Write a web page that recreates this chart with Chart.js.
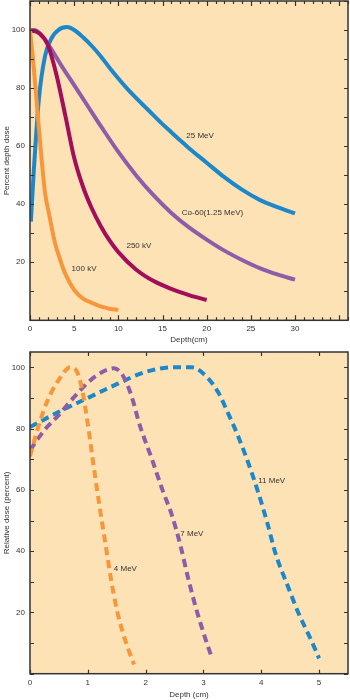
<!DOCTYPE html>
<html><head><meta charset="utf-8">
<script src="https://cdn.jsdelivr.net/npm/chart.js@4.4.1/dist/chart.umd.min.js"></script>
<style>html,body{margin:0;padding:0;background:#fff;}canvas{display:block;}</style>
</head><body>
<canvas id="c1" width="350" height="350"></canvas>
<canvas id="c2" width="350" height="350"></canvas>
<script>
// ---------- Top chart: Percent depth dose vs depth (cm) ----------
const depth100kV = [0, 0.4, 0.9, 1.3, 1.7, 2.2, 2.8, 3.4, 4, 5, 6, 7, 8, 9, 10];
const dose100kV  = [100, 88, 70, 56, 44, 36, 27, 21, 16, 10.5, 7.5, 6, 4.8, 4, 3.6];

const depth250kV = [0, 1, 2, 3, 4, 5, 6, 7, 8, 9, 10, 12, 14, 16, 18, 20];
const dose250kV  = [100, 99, 95, 84.5, 70.5, 56, 46, 38.5, 32.5, 27.5, 23.5, 17.5, 13.5, 10.8, 8.7, 7];

const depthCo60 = [0, 0.5, 1.5, 2.5, 3.5, 5, 6.5, 8, 10, 12, 14, 16, 18, 20, 22, 24, 26, 28, 30];
const doseCo60  = [99.5, 100, 97.5, 93, 88, 81, 74, 67, 58, 50, 43, 37, 32, 27.8, 24, 20.8, 18, 15.8, 14];

const depth25MeV = [0.1, 0.4, 1, 1.7, 2.5, 3.2, 4.2, 5, 6, 7, 8, 9, 10, 11, 12, 13, 14, 15, 16, 17, 18, 20, 22, 24, 26, 28, 30];
const dose25MeV  = [34, 50, 76, 91, 97.5, 100, 101, 100, 97.5, 94.5, 91, 87, 83.3, 79.8, 76.6, 73.6, 70.6, 67.6, 64.8, 62, 59.3, 54.3, 49.3, 45, 41.5, 39, 36.8];

const topXTickLabels = [0, 5, 10, 15, 20, 25, 30];
const topYTickLabels = [20, 40, 60, 80, 100];
const topSeriesNames = ['100 kV', '250 kV', 'Co-60(1.25 MeV)', '25 MeV'];

// ---------- Bottom chart: Relative dose (percent) vs depth (cm) ----------
const depth4MeV = [0, 0.15, 0.3, 0.5, 0.7, 0.8, 0.9, 1.0, 1.1, 1.2, 1.3, 1.4, 1.5, 1.6, 1.7, 1.8];
const dose4MeV  = [71, 81, 89, 96, 100, 99, 93, 81.5, 68, 55, 43, 31, 21, 13.8, 8, 3];

const depth7MeV = [0, 0.25, 0.5, 0.75, 1.0, 1.25, 1.45, 1.6, 1.75, 1.9, 2.1, 2.3, 2.45, 2.6, 2.75, 2.9, 3.05, 3.15];
const dose7MeV  = [73, 79.5, 84.5, 90, 95, 98.5, 99.7, 97.5, 91, 81, 70.5, 59.5, 52, 42, 30, 19.5, 10.5, 5];

const depth11MeV = [0, 0.5, 1.0, 1.5, 2.0, 2.5, 2.8, 3.05, 3.25, 3.45, 3.6, 3.8, 3.95, 4.1, 4.25, 4.45, 4.65, 4.85, 5.0];
const dose11MeV  = [80.5, 85.5, 90, 94.5, 98.5, 100, 100, 97, 92, 84, 77.5, 67.5, 59, 49.5, 39, 29, 19.5, 11.5, 5];

const bottomXTickLabels = [0, 1, 2, 3, 4, 5];
const bottomYTickLabels = [20, 40, 60, 80, 100];
const bottomSeriesNames = ['4 MeV', '7 MeV', '11 MeV'];

// ---------- styling ----------
const BG = '#FDE2B6';
const INK = '#333333';
const FONT = {family: '"Liberation Sans", Arial, sans-serif', size: 8};
const C_ORANGE = '#F7963A', C_MAGENTA = '#A20E5C', C_PURPLE = '#8D5DA8', C_BLUE = '#1C88CA';

const pts = (xs, ys) => xs.map((x, i) => ({x, y: ys[i]}));

function framePlugin(cfg) {
  return {
    id: 'frame',
    beforeDraw(chart) {
      const {ctx, chartArea: a} = chart;
      ctx.save();
      ctx.fillStyle = BG;
      ctx.fillRect(a.left, a.top, a.right - a.left, a.bottom - a.top);
      ctx.restore();
    },
    afterDraw(chart) {
      const {ctx, chartArea: a, scales: {x, y}} = chart;
      ctx.save();
      ctx.strokeStyle = INK;
      ctx.lineWidth = 1.2;
      ctx.beginPath();
      for (let v = Math.ceil(x.min / cfg.xMinor) * cfg.xMinor; v <= x.max + 1e-9; v += cfg.xMinor) {
        const px = Math.round(x.getPixelForValue(v)) + 0.5;
        const isMajor = Math.abs(v / cfg.xMajor - Math.round(v / cfg.xMajor)) < 1e-6;
        const len = isMajor ? cfg.majorLen : cfg.minorLen;
        ctx.moveTo(px, a.bottom); ctx.lineTo(px, a.bottom - len);
        ctx.moveTo(px, a.top); ctx.lineTo(px, a.top + len);
      }
      for (let v = Math.ceil(y.min / cfg.yMinor) * cfg.yMinor; v <= y.max + 1e-9; v += cfg.yMinor) {
        const py = Math.round(y.getPixelForValue(v)) + 0.5;
        ctx.moveTo(a.left, py); ctx.lineTo(a.left + 4, py);
        ctx.moveTo(a.right, py); ctx.lineTo(a.right - 4, py);
      }
      ctx.stroke();
      ctx.lineWidth = 1.5;
      ctx.strokeRect(a.left, a.top, a.right - a.left, a.bottom - a.top);
      ctx.fillStyle = INK;
      ctx.font = '8px "Liberation Sans", Arial, sans-serif';
      ctx.textAlign = 'center';
      ctx.textBaseline = 'middle';
      cfg.labels.forEach(l => {
        ctx.fillText(l.text, x.getPixelForValue(l.x), y.getPixelForValue(l.y));
      });
      ctx.restore();
    }
  };
}

function zeroPad(s) { s.paddingTop = 0; s.paddingBottom = 0; s.paddingLeft = 0; s.paddingRight = 0; }

function makeOptions(o) {
  return {
    responsive: false,
    animation: false,
    devicePixelRatio: 1,
    layout: {padding: {top: o.padTop, right: 2, bottom: 0, left: 0}},
    plugins: {legend: {display: false}, tooltip: {enabled: false}},
    elements: {point: {radius: 0}},
    scales: {
      x: {
        type: 'linear', min: 0, max: o.xMax,
        afterBuildTicks: s => { s.ticks = o.xTicks.map(v => ({value: v})); },
        afterFit: s => { s.height = o.xHeight; zeroPad(s); },
        grid: {display: false, drawTicks: false},
        border: {display: false},
        ticks: {padding: 4, font: FONT, color: INK, maxRotation: 0, autoSkip: false},
        title: {display: true, text: o.xTitle, font: FONT, color: INK, padding: {top: 0, bottom: o.xTitlePad}}
      },
      y: {
        type: 'linear', min: 0, max: o.yMax,
        afterBuildTicks: s => { s.ticks = o.yTicks.map(v => ({value: v})); },
        afterFit: s => { s.width = 30; zeroPad(s); },
        grid: {display: false, drawTicks: false},
        border: {display: false},
        ticks: {padding: 5, font: FONT, color: INK, autoSkip: false},
        title: {display: true, text: o.yTitle, font: FONT, color: INK, padding: {top: 2, bottom: 0}}
      }
    }
  };
}

const solid = (label, data, color) => ({
  label, data, borderColor: color, borderWidth: 4, fill: false,
  cubicInterpolationMode: 'monotone', borderCapStyle: 'butt', pointRadius: 0
});
const dashed = (label, data, color) => ({
  label, data, borderColor: color, borderWidth: 4, fill: false, borderDash: [8, 5],
  cubicInterpolationMode: 'monotone', borderCapStyle: 'butt', pointRadius: 0
});

new Chart(document.getElementById('c1'), {
  type: 'line',
  data: {datasets: [
    solid(topSeriesNames[0], pts(depth100kV, dose100kV), C_ORANGE),
    solid(topSeriesNames[1], pts(depth250kV, dose250kV), C_MAGENTA),
    solid(topSeriesNames[2], pts(depthCo60, doseCo60), C_PURPLE),
    solid(topSeriesNames[3], pts(depth25MeV, dose25MeV), C_BLUE)
  ]},
  options: makeOptions({padTop: 1, xMax: 36, yMax: 110, xTicks: topXTickLabels, yTicks: topYTickLabels,
    xHeight: 29.7, xTitle: 'Depth(cm)', xTitlePad: 5, yTitle: 'Percent depth dose'}),
  plugins: [framePlugin({xMinor: 1, xMajor: 5, yMinor: 10, majorLen: 5, minorLen: 3,
    labels: [
      {text: topSeriesNames[3], x: 19.25, y: 63.5},
      {text: topSeriesNames[2], x: 20.66, y: 37.2},
      {text: topSeriesNames[1], x: 12.33, y: 25.6},
      {text: topSeriesNames[0], x: 6.12, y: 17.9}
    ]})]
});

new Chart(document.getElementById('c2'), {
  type: 'line',
  data: {datasets: [
    dashed(bottomSeriesNames[0], pts(depth4MeV, dose4MeV), C_ORANGE),
    dashed(bottomSeriesNames[1], pts(depth7MeV, dose7MeV), C_PURPLE),
    dashed(bottomSeriesNames[2], pts(depth11MeV, dose11MeV), C_BLUE)
  ]},
  options: makeOptions({padTop: 2, xMax: 5.5, yMax: 105, xTicks: bottomXTickLabels, yTicks: bottomYTickLabels,
    xHeight: 26.3, xTitle: 'Depth (cm)', xTitlePad: 0, yTitle: 'Relative dose (percent)'}),
  plugins: [framePlugin({xMinor: 1, xMajor: 1, yMinor: 10, majorLen: 4, minorLen: 4,
    labels: [
      {text: bottomSeriesNames[2], x: 4.18, y: 63.0},
      {text: bottomSeriesNames[1], x: 2.8, y: 45.7},
      {text: bottomSeriesNames[0], x: 1.65, y: 34.2}
    ]})]
});
</script>
</body></html>
